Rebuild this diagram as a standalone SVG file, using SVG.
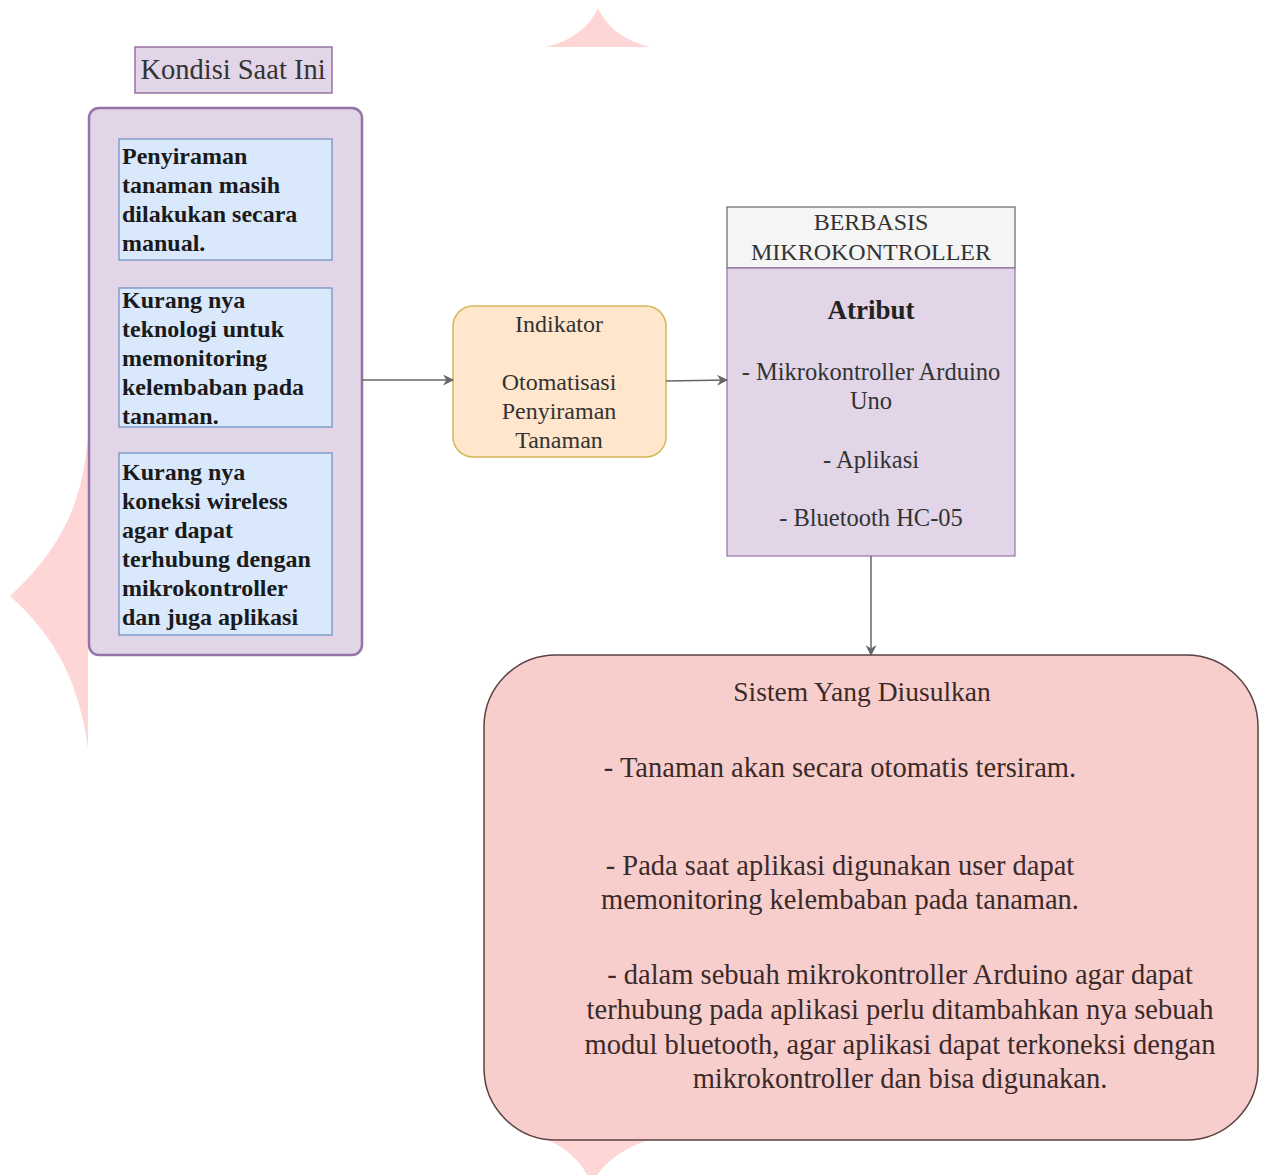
<svg xmlns="http://www.w3.org/2000/svg" width="1264" height="1175" viewBox="0 0 1264 1175">
<style>
text{font-family:"Liberation Serif","Times New Roman",serif;fill:#333}
.lbl{font-size:24px;text-anchor:middle}
.bold{font-size:24px;font-weight:bold;fill:#1a1a1a}
.big{font-size:28.5px;text-anchor:middle;fill:#3a2a2a}
.purple{fill:#e1d5e7;stroke:#9673a6}
.blue{fill:#dae8fc;stroke:#6c8ebf;stroke-width:1.2}
.wm{fill:#ffd6d6}
.conn{fill:none;stroke:#666;stroke-width:1.5}
</style>
<defs>
<marker id="arr" viewBox="0 0 10 10" refX="9" refY="5" markerWidth="11" markerHeight="11" markerUnits="userSpaceOnUse" orient="auto">
<path d="M0,0 L10,5 L0,10 L3,5 Z" fill="#666"/>
</marker>
</defs>
<rect width="1264" height="1175" fill="#fff"/>
<g id="watermark">
<path class="wm" d="M546,47 C575,40 590,25 598,8 C606,25 621,40 650,47 Z"/>
<path class="wm" d="M88,438 C82,500 65,545 10,596 C60,640 80,690 88,748 Z"/>
<path class="wm" d="M548,1140 L648,1140 C620,1150 600,1165 592,1185 C584,1165 570,1150 548,1140 Z"/>
</g>
<g id="kondisi-title">
<rect class="purple" x="135" y="47" width="197" height="46" stroke-width="1.5"/>
<text x="233" y="79" style="font-size:28.5px;text-anchor:middle">Kondisi Saat Ini</text>
</g>
<g id="kondisi">
<rect class="purple" x="89" y="108" width="273" height="547" rx="10" stroke-width="2.5"/>
</g>
<g id="kondisi-1">
<rect class="blue" x="119" y="139" width="213" height="121"/>
<text class="bold"><tspan x="122" y="164">Penyiraman</tspan><tspan x="122" y="193">tanaman masih</tspan><tspan x="122" y="222">dilakukan secara</tspan><tspan x="122" y="251">manual.</tspan></text>
</g>
<g id="kondisi-2">
<rect class="blue" x="119" y="288" width="213" height="139"/>
<text class="bold"><tspan x="122" y="308">Kurang nya</tspan><tspan x="122" y="337">teknologi untuk</tspan><tspan x="122" y="366">memonitoring</tspan><tspan x="122" y="395">kelembaban pada</tspan><tspan x="122" y="424">tanaman.</tspan></text>
</g>
<g id="kondisi-3">
<rect class="blue" x="119" y="453" width="213" height="182"/>
<text class="bold"><tspan x="122" y="480">Kurang nya</tspan><tspan x="122" y="509">koneksi wireless</tspan><tspan x="122" y="538">agar dapat</tspan><tspan x="122" y="567">terhubung dengan</tspan><tspan x="122" y="596">mikrokontroller</tspan><tspan x="122" y="625">dan juga aplikasi</tspan></text>
</g>
<g id="indikator">
<rect x="453" y="306" width="213" height="151" rx="20" fill="#ffe6cc" stroke="#d6b656" stroke-width="1.5"/>
<text class="lbl" style="font-size:24px"><tspan x="559" y="332">Indikator</tspan><tspan x="559" y="390">Otomatisasi</tspan><tspan x="559" y="419">Penyiraman</tspan><tspan x="559" y="448">Tanaman</tspan></text>
</g>
<g id="mikrokontroller">
<rect x="727" y="207" width="288" height="61" fill="#f5f5f5" stroke="#666" stroke-width="1.2"/>
<rect class="purple" x="727" y="268" width="288" height="288" stroke-width="1.2"/>
<text class="lbl"><tspan x="871" y="230">BERBASIS</tspan><tspan x="871" y="260">MIKROKONTROLLER</tspan></text>
<text x="871" y="319" style="font-size:27px;font-weight:bold;text-anchor:middle;fill:#222">Atribut</text>
<text class="lbl" style="font-size:24.5px"><tspan x="871" y="380">- Mikrokontroller Arduino</tspan><tspan x="871" y="409">Uno</tspan><tspan x="871" y="468">- Aplikasi</tspan><tspan x="871" y="526">- Bluetooth HC-05</tspan></text>
</g>
<g id="sistem">
<rect x="484" y="655" width="774" height="485" rx="72" fill="#f8cecc" stroke="#5a4040" stroke-width="1.5"/>
<text x="862" y="701" class="big" style="font-size:27.5px">Sistem Yang Diusulkan</text>
<text class="big"><tspan x="840" y="777">- Tanaman akan secara otomatis tersiram.</tspan><tspan x="840" y="875">- Pada saat aplikasi digunakan user dapat</tspan><tspan x="840" y="909">memonitoring kelembaban pada tanaman.</tspan><tspan x="900" y="984">- dalam sebuah mikrokontroller Arduino agar dapat</tspan><tspan x="900" y="1019">terhubung pada aplikasi perlu ditambahkan nya sebuah</tspan><tspan x="900" y="1054">modul bluetooth, agar aplikasi dapat terkoneksi dengan</tspan><tspan x="900" y="1088">mikrokontroller dan bisa digunakan.</tspan></text>
</g>
<g id="connectors">
<path class="conn" d="M362,380 L453,380" marker-end="url(#arr)"/>
<path class="conn" d="M666,381 L727,380" marker-end="url(#arr)"/>
<path class="conn" d="M871,556 L871,655" marker-end="url(#arr)"/>
</g>
</svg>
